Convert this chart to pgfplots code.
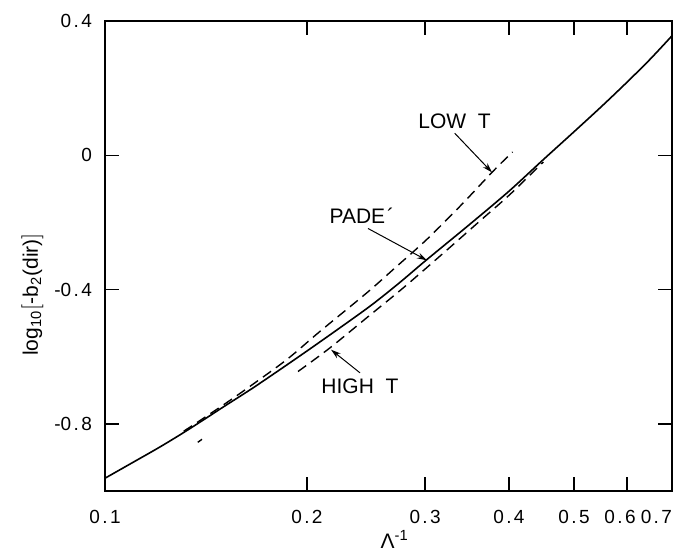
\documentclass[border=0pt]{standalone}
\usepackage{fontspec}
\setmainfont{Liberation Sans}
\usepackage{pgfplots}
\pgfplotsset{compat=1.18}
\usetikzlibrary{arrows.meta}
\newcommand{\tk}[2]{#1\kern1.2pt.\kern1.2pt#2}

\pgfplotstableread{
x y
0.100 -0.962
0.110 -0.915
0.120 -0.872
0.130 -0.830
0.140 -0.789
0.150 -0.750
0.165 -0.697
0.180 -0.646
0.200 -0.583
0.225 -0.511
0.250 -0.445
0.275 -0.379
0.300 -0.315
0.350 -0.205
0.400 -0.107
0.450 -0.013
0.500 0.070
0.550 0.146
0.600 0.218
0.650 0.287
0.700 0.356
}\pade

\pgfplotstableread{
x y
0.131 -0.822
0.1386 -0.790
0.150 -0.744
0.1627 -0.695
0.1865 -0.609
0.209 -0.525
0.2455 -0.410
0.270 -0.337
0.3016 -0.251
0.340 -0.147
0.379 -0.047
0.405 0.010
}\lowT

\pgfplotstableread{
x y
0.194 -0.644
0.2163 -0.574
0.2469 -0.480
0.2783 -0.395
0.320 -0.290
0.360 -0.200
0.4017 -0.116
0.450 -0.020
}\highT

\begin{document}
\begin{tikzpicture}
\begin{axis}[
  scale only axis,
  width=283.5pt, height=235pt,
  xmode=log,
  xmin=0.1, xmax=0.7, ymin=-1.0, ymax=0.4,
  xtick={0.1,0.2,0.3,0.4,0.5,0.6,0.7},
  xticklabels={\tk{0}{1},\tk{0}{2},\tk{0}{3},\tk{0}{4},\tk{0}{5},\hspace*{-7pt}\tk{0}{6},\makebox[0pt][r]{\tk{0}{7}}},
  ytick={-0.8,-0.4,0,0.4},
  yticklabels={-\tk{0}{8},-\tk{0}{4},0,\tk{0}{4}},
  xminorticks=false, yminorticks=false,
  tick align=inside,
  major tick length=7pt,
  tick style={line width=0.7pt, black},
  axis line style={line width=0.9pt},
  tick label style={font=\fontsize{9.5}{11}\selectfont},
  xticklabel style={yshift=-6pt},
  yticklabel style={xshift=-3pt},
  xlabel={Λ\textsuperscript{-1}},
  ylabel={log\textsubscript{10}$\bigl[$-b\textsubscript{2}(dir)$\bigr]$},
  every axis x label/.style={at={(axis description cs:0.511,-0.104)}, anchor=center, font=\fontsize{10.5}{12}\selectfont},
  every axis y label/.style={at={(axis description cs:-0.1287,0.418)}, rotate=90, anchor=center, font=\fontsize{10.5}{12}\selectfont},
]
\addplot[black, line width=0.8pt, no marks, smooth] table {\pade};
\addplot[black, line width=0.7pt, no marks, smooth, dash pattern=on 5pt off 3pt] table {\lowT};
\addplot[black, line width=0.7pt, no marks, smooth, dash pattern=on 5pt off 3pt] table {\highT};
\addplot[black, line width=0.7pt, no marks] coordinates {(0.1375,-0.855) (0.1395,-0.846)};

\node[font=\fontsize{10.5}{12}\selectfont] at (axis cs:0.332,0.10) {LOW\ \ T};
\draw[line width=0.5pt, -{Stealth[length=5pt,width=3pt]}] (axis cs:0.332,0.066) -- (axis cs:0.3775,-0.051);
\node[font=\fontsize{10.5}{12}\selectfont] at (axis cs:0.2415,-0.179) {PADE\kern1pt´};
\draw[line width=0.5pt, -{Stealth[length=5pt,width=3pt]}] (axis cs:0.2466,-0.218) -- (axis cs:0.302,-0.313);
\node[font=\fontsize{10.5}{12}\selectfont] at (axis cs:0.2399,-0.687) {HIGH\ \ T};
\draw[line width=0.5pt, -{Stealth[length=5pt,width=3pt]}] (axis cs:0.2399,-0.648) -- (axis cs:0.2172,-0.579);
\end{axis}
\pgfresetboundingbox
\path[use as bounding box] ([shift={(-52.5pt,-33.5pt)}]current axis.south west) rectangle ([shift={(7pt,10.5pt)}]current axis.north east);
\end{tikzpicture}
\end{document}
